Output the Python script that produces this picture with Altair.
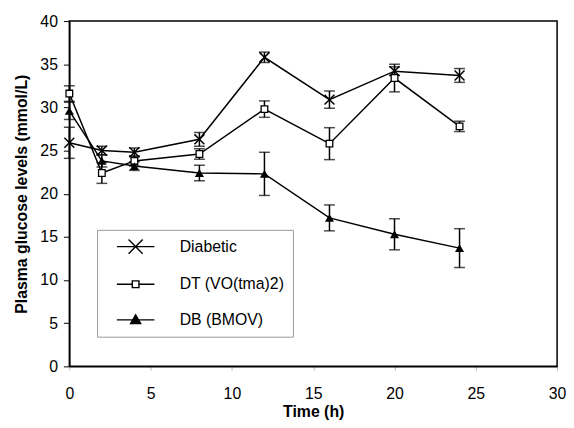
import altair as alt
import pandas as pd

times = [0, 2, 4, 8, 12, 16, 20, 24]
series_names = ["Diabetic", "DT (VO(tma)2)", "DB (BMOV)"]
diabetic = [25.9, 25.0, 24.8, 26.3, 35.8, 30.9, 34.2, 33.7]
diabetic_err = [1.8, 0.5, 0.5, 0.8, 0.6, 1.0, 0.5, 0.8]
dt = [31.6, 22.4, 23.8, 24.6, 29.8, 25.8, 33.4, 27.8]
dt_err = [0.9, 1.2, 0.6, 0.6, 0.95, 1.85, 1.6, 0.6]
db = [29.6, 23.8, 23.2, 22.4, 22.3, 17.2, 15.3, 13.7]
db_err = [1.0, 0.7, 0.5, 0.9, 2.5, 1.5, 1.8, 2.25]
x_ticks = [0, 5, 10, 15, 20, 25, 30]
y_ticks = [0, 5, 10, 15, 20, 25, 30, 35, 40]

rows = []
for name, vals, errs in zip(series_names, [diabetic, dt, db], [diabetic_err, dt_err, db_err]):
    for t, v, e in zip(times, vals, errs):
        rows.append({"series": name, "t": t, "v": v, "lo": v - e, "hi": v + e})
df = pd.DataFrame(rows)

FONT = "Liberation Sans"
xs = alt.Scale(domain=[0, 30], nice=False, zero=False)
ys = alt.Scale(domain=[0, 40], nice=False)

x_enc = alt.X("t:Q", scale=xs, axis=alt.Axis(
    values=x_ticks, title="Time (h)", grid=False, tickSize=4, tickColor="#bbbbbb",
    labelPadding=15, labelFlush=False, titlePadding=3))
y_enc = alt.Y("v:Q", scale=ys, axis=alt.Axis(
    values=y_ticks, title="Plasma glucose levels (mmol/L)", grid=False, tickSize=6,
    labelPadding=6, labelFlush=False, titlePadding=10))

base = alt.Chart(df)

lines = base.mark_line(color="black", strokeWidth=1.5).encode(
    x=x_enc, y=y_enc, detail="series:N")
rules = base.mark_rule(color="black", strokeWidth=1.5).encode(
    x="t:Q", y="lo:Q", y2="hi:Q", detail="series:N")
caps_lo = base.mark_tick(color="black", orient="horizontal", size=11, thickness=1.5).encode(
    x="t:Q", y="lo:Q")
caps_hi = base.mark_tick(color="black", orient="horizontal", size=11, thickness=1.5).encode(
    x="t:Q", y="hi:Q")

x_path = "M-1,-1L1,1M-1,1L1,-1"
pts_diab = base.transform_filter(alt.datum.series == series_names[0]).mark_point(
    shape=x_path, size=100, filled=False, color="black", strokeWidth=1.5, opacity=1).encode(
    x="t:Q", y="v:Q")
pts_dt = base.transform_filter(alt.datum.series == series_names[1]).mark_point(
    shape="square", size=45, fill="white", stroke="black", strokeWidth=1.3, opacity=1).encode(
    x="t:Q", y="v:Q")
pts_db = base.transform_filter(alt.datum.series == series_names[2]).mark_point(
    shape="triangle-up", size=85, filled=True, color="black", opacity=1).encode(
    x="t:Q", y="v:Q")

leg_paths = [
    "M-2.53,0H2.53M-0.95,-0.95L0.95,0.95M-0.95,0.95L0.95,-0.95",
    "M-2.53,0H-0.45M0.45,0H2.53M-0.45,-0.45H0.45V0.45H-0.45Z",
    "M-2.53,0H2.53M-0.68,0.5L0,-0.68L0.68,0.5Z",
]
leg = alt.Legend(title=None, labelExpr="datum.label + '\u00a0\u00a0'")
legend_layer = base.transform_filter("false").mark_point().encode(
    x="t:Q", y="v:Q",
    shape=alt.Shape("series:N", scale=alt.Scale(domain=series_names, range=leg_paths), legend=leg),
    fill=alt.Fill("series:N", scale=alt.Scale(domain=series_names,
                                              range=["transparent", "white", "black"]), legend=leg),
    stroke=alt.Stroke("series:N", scale=alt.Scale(domain=series_names,
                                                  range=["black", "black", "black"]), legend=leg),
)

chart = alt.layer(lines, rules, caps_lo, caps_hi, pts_diab, pts_dt, pts_db, legend_layer).properties(
    width=493, height=349,
    autosize=alt.AutoSizeParams(type="none"),
    padding={"left": 62, "top": 11, "right": 9, "bottom": 52},
).configure_view(
    stroke="black", strokeWidth=1.5
).configure_axis(
    labelFont=FONT, titleFont=FONT, labelFontSize=16, titleFontSize=16,
    titleFontWeight="bold", labelColor="black", titleColor="black",
    domainColor="black", domainWidth=1.5, tickColor="black", tickWidth=1,
    labelOverlap=False
).configure_legend(
    orient="none", legendX=28, legendY=211, padding=8.5,
    strokeColor="#999999", strokeWidth=1, fillColor="white",
    labelFont=FONT, labelFontSize=16, labelColor="black", labelOffset=36,
    symbolSize=225, symbolOffset=22, symbolStrokeColor="black", symbolStrokeWidth=1.4,
    symbolOpacity=1, rowPadding=19, labelLimit=300
)

chart.save("out.html", embed_options={"renderer": "svg", "actions": False})
